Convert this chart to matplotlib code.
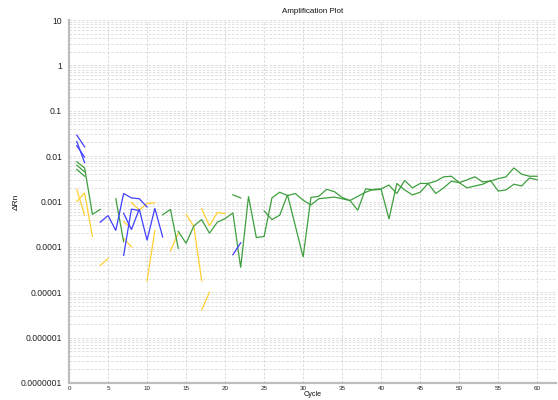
import numpy as np
import matplotlib
matplotlib.use("Agg")
import matplotlib.pyplot as plt
from matplotlib.ticker import FixedLocator, LogLocator, NullFormatter

plt.rcParams['font.family'] = ['Liberation Sans', 'DejaVu Sans']

# ---------------- data ----------------
title = "Amplification Plot"
x_label = "Cycle"
y_label = "ΔRn"
x_ticks = [0, 5, 10, 15, 20, 25, 30, 35, 40, 45, 50, 55, 60]
y_ticks = [1e-7, 1e-6, 1e-5, 1e-4, 1e-3, 1e-2, 1e-1, 1, 10]
y_tick_labels = ["0.0000001", "0.000001", "0.00001", "0.0001", "0.001",
                 "0.01", "0.1", "1", "10"]

# green wells
green_a_cycles = [1, 2, 3, 4]
green_a = [7.5e-3, 5.5e-3, 5.2e-4, 6.7e-4]
green_b_cycles = [1, 2]
green_b = [6.3e-3, 4.5e-3]
green_c_cycles = [1, 2]
green_c = [5.1e-3, 3.6e-3]
green_d_cycles = [6, 7]
green_d = [1.15e-3, 1.3e-4]
green_e_cycles = [12, 13, 14]
green_e = [5.1e-4, 6.7e-4, 9.3e-5]
green_f_cycles = list(range(14, 61))
green_f = [2.2e-4, 1.2e-4, 2.9e-4, 4.0e-4, 2.0e-4, 3.5e-4, 4.2e-4, 5.6e-4,
           3.5e-5, 1.3e-3, 1.6e-4, 1.7e-4, 1.2e-3, 1.6e-3, 1.35e-3, 1.5e-3,
           1.07e-3, 8.4e-4, 1.15e-3, 1.2e-3, 1.25e-3, 1.15e-3, 1.05e-3, 1.3e-3,
           1.6e-3, 1.85e-3, 1.9e-3, 2.3e-3, 1.5e-3, 2.9e-3, 2.0e-3, 2.5e-3,
           2.5e-3, 1.5e-3, 2.0e-3, 2.8e-3, 2.6e-3, 3.0e-3, 3.5e-3, 2.7e-3,
           2.8e-3, 3.2e-3, 3.5e-3, 5.5e-3, 4.0e-3, 3.6e-3, 3.6e-3]
green_g_cycles = [21, 22]
green_g = [1.4e-3, 1.2e-3]
green_h_cycles = list(range(25, 61))
green_h = [6.2e-4, 4.0e-4, 5.0e-4, 1.4e-3, 2.9e-4, 6.0e-5, 1.23e-3, 1.3e-3,
           1.85e-3, 1.65e-3, 1.23e-3, 1.05e-3, 6.4e-4, 1.9e-3, 1.8e-3, 1.85e-3,
           4.1e-4, 2.5e-3, 1.8e-3, 1.4e-3, 1.6e-3, 2.5e-3, 2.8e-3, 3.5e-3,
           3.6e-3, 2.6e-3, 2.0e-3, 2.2e-3, 2.4e-3, 2.9e-3, 1.7e-3, 1.8e-3,
           2.4e-3, 2.2e-3, 3.3e-3, 3.0e-3]

# blue wells
blue_a_cycles = [1, 2]
blue_a = [2.9e-2, 1.6e-2]
blue_b_cycles = [1, 2]
blue_b = [2.1e-2, 7.2e-3]
blue_c_cycles = [1, 2]
blue_c = [1.7e-2, 9.5e-3]
blue_d_cycles = [4, 5, 6, 7, 8, 9, 10]
blue_d = [3.5e-4, 4.9e-4, 2.3e-4, 1.5e-3, 1.2e-3, 1.15e-3, 7.6e-4]
blue_e_cycles = [7, 8, 9, 10, 11, 12]
blue_e = [5.5e-4, 2.4e-4, 6.8e-4, 1.4e-4, 7.1e-4, 1.65e-4]
blue_f_cycles = [7, 8, 9]
blue_f = [6.5e-5, 6.8e-4, 6.3e-4]
blue_g_cycles = [21, 22]
blue_g = [6.7e-5, 1.23e-4]

# yellow wells
yellow_a_cycles = [1, 2]
yellow_a = [1.85e-3, 5.0e-4]
yellow_b_cycles = [1, 2, 3]
yellow_b = [1.0e-3, 1.55e-3, 1.7e-4]
yellow_c_cycles = [4, 5]
yellow_c = [3.9e-5, 5.5e-5]
yellow_d_cycles = [7, 8]
yellow_d = [3.6e-4, 2.6e-4]
yellow_e_cycles = [7, 8]
yellow_e = [1.55e-4, 1.0e-4]
yellow_f_cycles = [8, 9, 10, 11]
yellow_f = [9.5e-4, 6.5e-4, 9.0e-4, 9.4e-4]
yellow_g_cycles = [10, 11]
yellow_g = [1.8e-5, 2.3e-4]
yellow_h_cycles = [13, 14]
yellow_h = [8.2e-5, 2.0e-4]
yellow_i_cycles = [15, 16, 17]
yellow_i = [5.2e-4, 2.8e-4, 1.8e-5]
yellow_j_cycles = [17, 18, 19, 20]
yellow_j = [6.9e-4, 2.9e-4, 5.7e-4, 5.4e-4]
yellow_k_cycles = [17, 18]
yellow_k = [4.1e-6, 1.0e-5]

GREEN = "#3f9f3f"
BLUE = "#4040ff"
YELLOW = "#ffd030"

series = [
    (yellow_a_cycles, yellow_a, YELLOW), (yellow_b_cycles, yellow_b, YELLOW),
    (yellow_c_cycles, yellow_c, YELLOW), (yellow_d_cycles, yellow_d, YELLOW),
    (yellow_e_cycles, yellow_e, YELLOW), (yellow_f_cycles, yellow_f, YELLOW),
    (yellow_g_cycles, yellow_g, YELLOW), (yellow_h_cycles, yellow_h, YELLOW),
    (yellow_i_cycles, yellow_i, YELLOW), (yellow_j_cycles, yellow_j, YELLOW),
    (yellow_k_cycles, yellow_k, YELLOW),
    (green_a_cycles, green_a, GREEN), (green_b_cycles, green_b, GREEN),
    (green_c_cycles, green_c, GREEN), (green_d_cycles, green_d, GREEN),
    (green_e_cycles, green_e, GREEN), (green_f_cycles, green_f, GREEN),
    (green_g_cycles, green_g, GREEN), (green_h_cycles, green_h, GREEN),
    (blue_a_cycles, blue_a, BLUE), (blue_b_cycles, blue_b, BLUE),
    (blue_c_cycles, blue_c, BLUE), (blue_d_cycles, blue_d, BLUE),
    (blue_e_cycles, blue_e, BLUE), (blue_f_cycles, blue_f, BLUE),
    (blue_g_cycles, blue_g, BLUE),
]

# ---------------- figure ----------------
W, H = 558, 400
fig = plt.figure(figsize=(W / 100, H / 100), dpi=100)
ax = fig.add_axes([69 / W, (H - 383) / H, (556 - 69) / W, (383 - 20) / H])

for xs, ys, col in series:
    ax.plot(xs, ys, color=col, lw=0.9, solid_joinstyle='miter')

ax.set_yscale('log')
ax.set_xlim(0, 62.4)
ax.set_ylim(1e-7, 10)

ax.xaxis.set_major_locator(FixedLocator(x_ticks))
ax.set_xticklabels([str(t) for t in x_ticks])
ax.yaxis.set_major_locator(FixedLocator(y_ticks))
ax.set_yticklabels(y_tick_labels)
ax.yaxis.set_minor_locator(LogLocator(base=10, subs=np.arange(2, 10), numticks=20))
ax.yaxis.set_minor_formatter(NullFormatter())

ax.tick_params(axis='x', labelsize=4.5, length=0, pad=2, colors='#222222')
ax.tick_params(axis='y', which='major', labelsize=6.2, length=0, pad=5,
               colors='#222222')
ax.tick_params(axis='y', which='minor', length=0)

ax.grid(True, which='major', axis='x', color='#d4d4d4', lw=0.6,
        linestyle=(0, (3, 2)))
ax.grid(True, which='both', axis='y', color='#dadada', lw=0.6,
        linestyle=(0, (3, 2)))
ax.set_axisbelow(True)

for s in ['top', 'right']:
    ax.spines[s].set_visible(False)
for s in ['left', 'bottom']:
    ax.spines[s].set_color('#bdbdbd')
    ax.spines[s].set_linewidth(1.6)

ax.set_title(title, fontsize=5.8, pad=5, color='#111111')
ax.set_ylabel(y_label, fontsize=6, labelpad=1, color='#111111')
ax.set_xlabel(x_label, fontsize=5.2, labelpad=0.5, color='#111111')

fig.savefig("out.png", dpi=100)
